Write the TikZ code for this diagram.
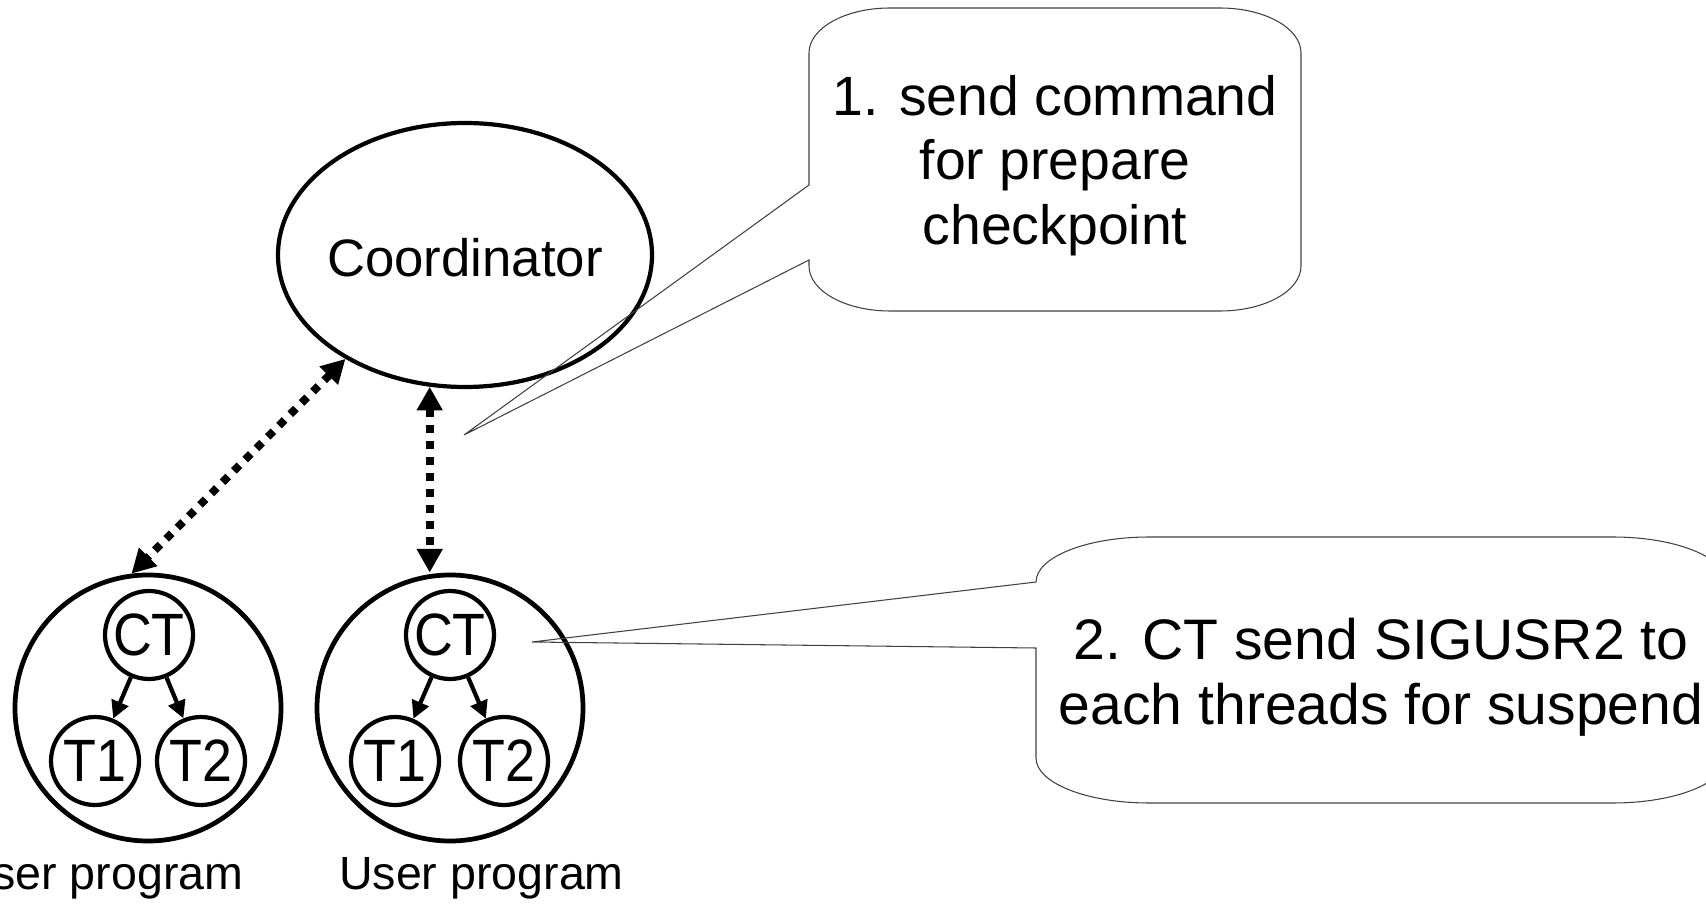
\documentclass[tikz,border=0pt]{standalone}
\usepackage{fontspec}
\setmainfont{Liberation Sans}
\newfontfamily\thinfont[FakeStretch=0.9]{Liberation Sans}
\usetikzlibrary{shapes.geometric,arrows.meta}

\begin{document}
\begin{tikzpicture}[
		proc/.style={draw, circle, line width=2.7pt, minimum size=5.32cm, inner sep=0},
		thr/.style={draw, circle, line width=2.4pt, minimum size=1.76cm, inner sep=0, font=\thinfont\fontsize{34}{36}\selectfont},
		fork/.style={line width=2.4pt, -{Triangle[length=10pt,width=10pt]}},
		link/.style={line width=4.5pt, dash pattern=on 4.5pt off 4.6pt, {Triangle[length=13.5pt,width=14pt]}-{Triangle[length=13.5pt,width=14pt]}},
		note/.style={draw=black!75, line width=0.6pt, line join=miter},
		label/.style={font=\fontsize{26.5}{30}\selectfont, anchor=base}
	]
		\useasboundingbox ( 0.0, 0.0 ) rectangle ( 34.12, 18.12 );

		% координатор
		\node [draw, ellipse, line width=2.4pt, minimum width=7.48cm, minimum height=5.28cm, inner sep=0] (coord) at ( 9.30, 13.02 ) {};
		\node [font=\fontsize{30}{36}\selectfont] (coordtext) at ( 9.30, 12.97 ) {Coordinator};

		% первая программа
		\node [proc] (prog1) at ( 2.96, 3.96 ) {};
		\node [thr] (ct1) at ( 2.98, 5.42 ) {CT};
		\node [thr] (ta1) at ( 1.90, 2.90 ) {T1};
		\node [thr] (tb1) at ( 4.02, 2.90 ) {T2};
		\draw [fork] (ct1) -- (ta1);
		\draw [fork] (ct1) -- (tb1);
		\node [label] (lab1) at ( 2.02, 0.34 ) {User program};

		% вторая программа
		\node [proc] (prog2) at ( 9.00, 3.96 ) {};
		\node [thr] (ct2) at ( 9.00, 5.42 ) {CT};
		\node [thr] (ta2) at ( 7.90, 2.90 ) {T1};
		\node [thr] (tb2) at ( 10.08, 2.90 ) {T2};
		\draw [fork] (ct2) -- (ta2);
		\draw [fork] (ct2) -- (tb2);
		\node [label] (lab2) at ( 9.63, 0.34 ) {User program};

		% связь с координатором
		\draw [link] (coord.221) -- (prog1.97);
		\draw [link] (coord.255) -- (coord.255 |- prog2.north);

		% выноска 1
		\coordinate (tip1) at ( 9.28, 9.42 );
		\draw [note] ( 16.18, 17.06 ) arc [start angle=180, end angle=90, x radius=1.62, y radius=0.9] -- ( 24.40, 17.96 ) arc [start angle=90, end angle=0, x radius=1.62, y radius=0.9] -- ( 26.02, 12.80 ) arc [start angle=0, end angle=-90, x radius=1.62, y radius=0.9] -- ( 17.80, 11.90 ) arc [start angle=-90, end angle=-180, x radius=1.62, y radius=0.9] -- ( 16.18, 12.92 ) -- (tip1) -- ( 16.18, 14.42 ) -- cycle;
		\node [font=\fontsize{31.5}{36.7}\selectfont, align=center] (msg1) at ( 21.10, 14.81 ) {1. send command\\for prepare\\checkpoint};

		% выноска 2
		\coordinate (tip2) at ( 10.64, 5.28 );
		\draw [note] ( 20.72, 6.48 ) arc [start angle=180, end angle=90, x radius=2.26, y radius=0.9] -- ( 32.26, 7.38 ) arc [start angle=90, end angle=0, x radius=2.26, y radius=0.9] -- ( 34.52, 2.96 ) arc [start angle=0, end angle=-90, x radius=2.26, y radius=0.9] -- ( 22.98, 2.06 ) arc [start angle=-90, end angle=-180, x radius=2.26, y radius=0.9] -- ( 20.72, 5.16 ) -- (tip2) -- cycle;
		\node [font=\fontsize{32.5}{37}\selectfont, align=center] (msg2) at ( 27.62, 4.58 ) {2. CT send SIGUSR2 to\\each threads for suspend};
	\end{tikzpicture}
\end{document}
